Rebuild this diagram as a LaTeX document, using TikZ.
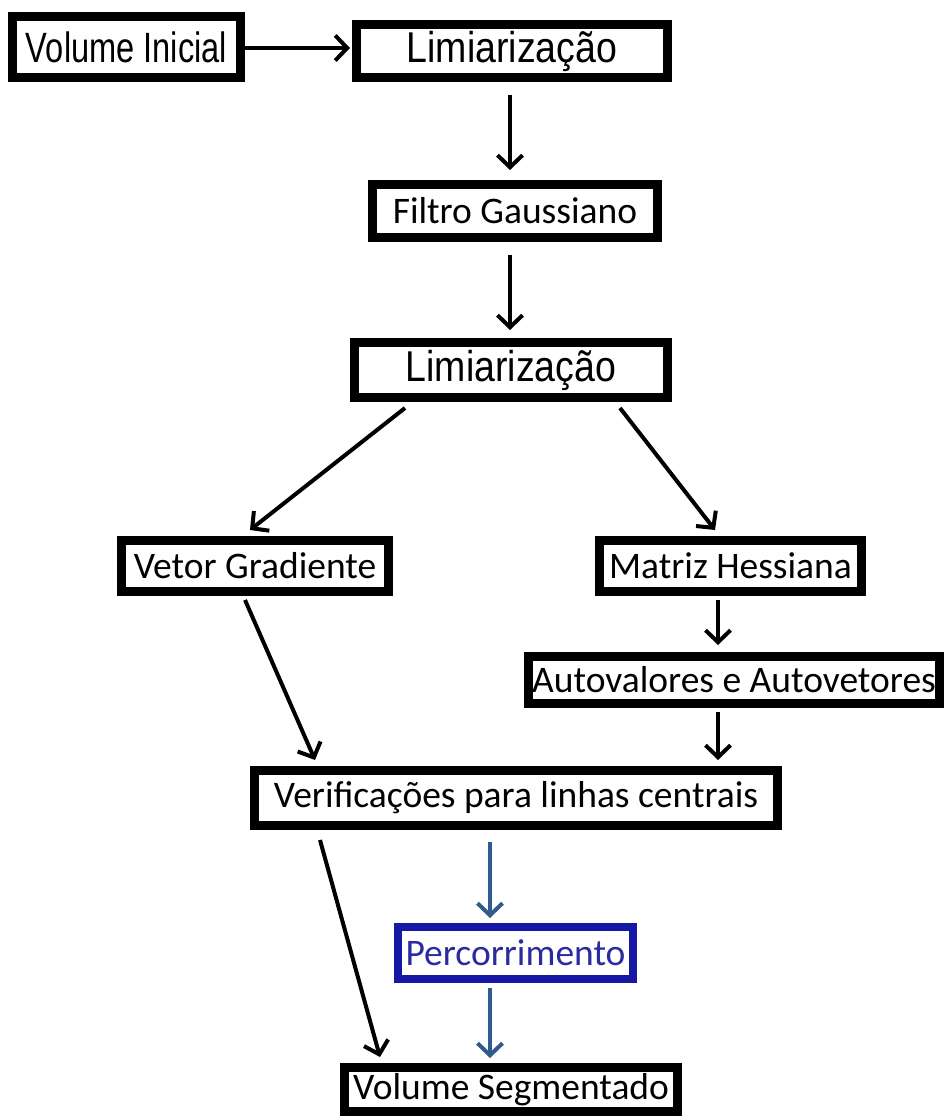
\documentclass[tikz,border=0pt]{standalone}
\usepackage{fontspec}
\setmainfont{Carlito}
\newfontfamily\arialfont{Liberation Sans}
\usetikzlibrary{arrows.meta}
\definecolor{boxblue}{HTML}{1717A6}
\definecolor{textblue}{HTML}{2B2BA0}
\definecolor{arrowblue}{HTML}{2F5C8C}
\newcommand{\tallarial}[2]{\scalebox{1}[#1]{\arialfont #2}}

\begin{document}
\begin{tikzpicture}[x=1pt,y=-1pt,
        blk/.style={draw, line width=9pt, fill=white, inner sep=0pt, font=\fontsize{37.5}{44}\selectfont},
        arl/.style={blk, font=\fontsize{37.5}{44}\selectfont},
        arr/.style={line width=4pt, -{Straight Barb[length=12pt,width=25pt]}},
        barr/.style={arr, arrowblue}]
        \useasboundingbox (0,0) rectangle (947,1118);
        \node[arl, minimum width=228pt, minimum height=61pt, font=\fontsize{32.6}{40}\selectfont] (vini) at (126.5,47) {\tallarial{1.3}{Volume Inicial}};
        \node[arl, minimum width=311pt, minimum height=53pt] (lim1) at (512,51) {\tallarial{1.15}{Limiarização}};
        \node[blk, minimum width=285pt, minimum height=53pt] (filt) at (515,211) {Filtro Gaussiano};
        \node[arl, minimum width=313pt, minimum height=55pt] (lim2) at (511,370) {\tallarial{1.15}{Limiarização}};
        \node[blk, minimum width=267pt, minimum height=51pt] (vgrad) at (255,566) {Vetor Gradiente};
        \node[blk, minimum width=262pt, minimum height=51pt] (mhess) at (730.5,566) {Matriz Hessiana};
        \node[blk, minimum width=411pt, minimum height=47pt] (auto) at (734,680) {Autovalores e Autovetores};
        \node[blk, minimum width=523pt, minimum height=55pt] (verif) at (516,798) {Verificações para linhas centrais};
        \node[blk, draw=boxblue, line width=8pt, text=textblue, minimum width=235pt, minimum height=52pt] (perc) at (515.5,953) {Percorrimento};
        \node[blk, minimum width=333pt, minimum height=44pt] (vseg) at (511,1089.5) {Volume Segmentado};
        \draw[arr] ([yshift=-1pt]vini.east) -- ([yshift=3pt,xshift=-2pt]lim1.west);
        \draw[arr] ([xshift=-2pt,yshift=-13pt]lim1.south) -- ([xshift=-5pt,yshift=10pt]filt.north);
        \draw[arr] ([xshift=-5pt,yshift=-13pt]filt.south) -- ([xshift=-1pt,yshift=8pt]lim2.north);
        \draw[arr] ([xshift=-106pt,yshift=-6pt]lim2.south) -- ([xshift=-5pt,yshift=6pt]vgrad.north);
        \draw[arr] ([xshift=109pt,yshift=-6pt]lim2.south) -- ([xshift=-15.5pt,yshift=6pt]mhess.north);
        \draw[arr] ([xshift=-10pt,yshift=-4pt]vgrad.south) -- ([xshift=-201pt,yshift=6pt]verif.north);
        \draw[arr] ([xshift=-12.5pt,yshift=-4pt]mhess.south) -- ([xshift=-16pt,yshift=7pt]auto.north);
        \draw[arr] ([xshift=-16pt,yshift=-4pt]auto.south) -- ([xshift=202pt,yshift=6pt]verif.north);
        \draw[arr] ([xshift=-196pt,yshift=-10pt]verif.south) -- ([xshift=-131pt,yshift=6pt]vseg.north);
        \draw[barr] ([xshift=-26pt,yshift=-12pt]verif.south) -- ([xshift=-25.5pt,yshift=5pt]perc.north);
        \draw[barr] ([xshift=-25.5pt,yshift=-5pt]perc.south) -- ([xshift=-21pt,yshift=5pt]vseg.north);
    \end{tikzpicture}
\end{document}
